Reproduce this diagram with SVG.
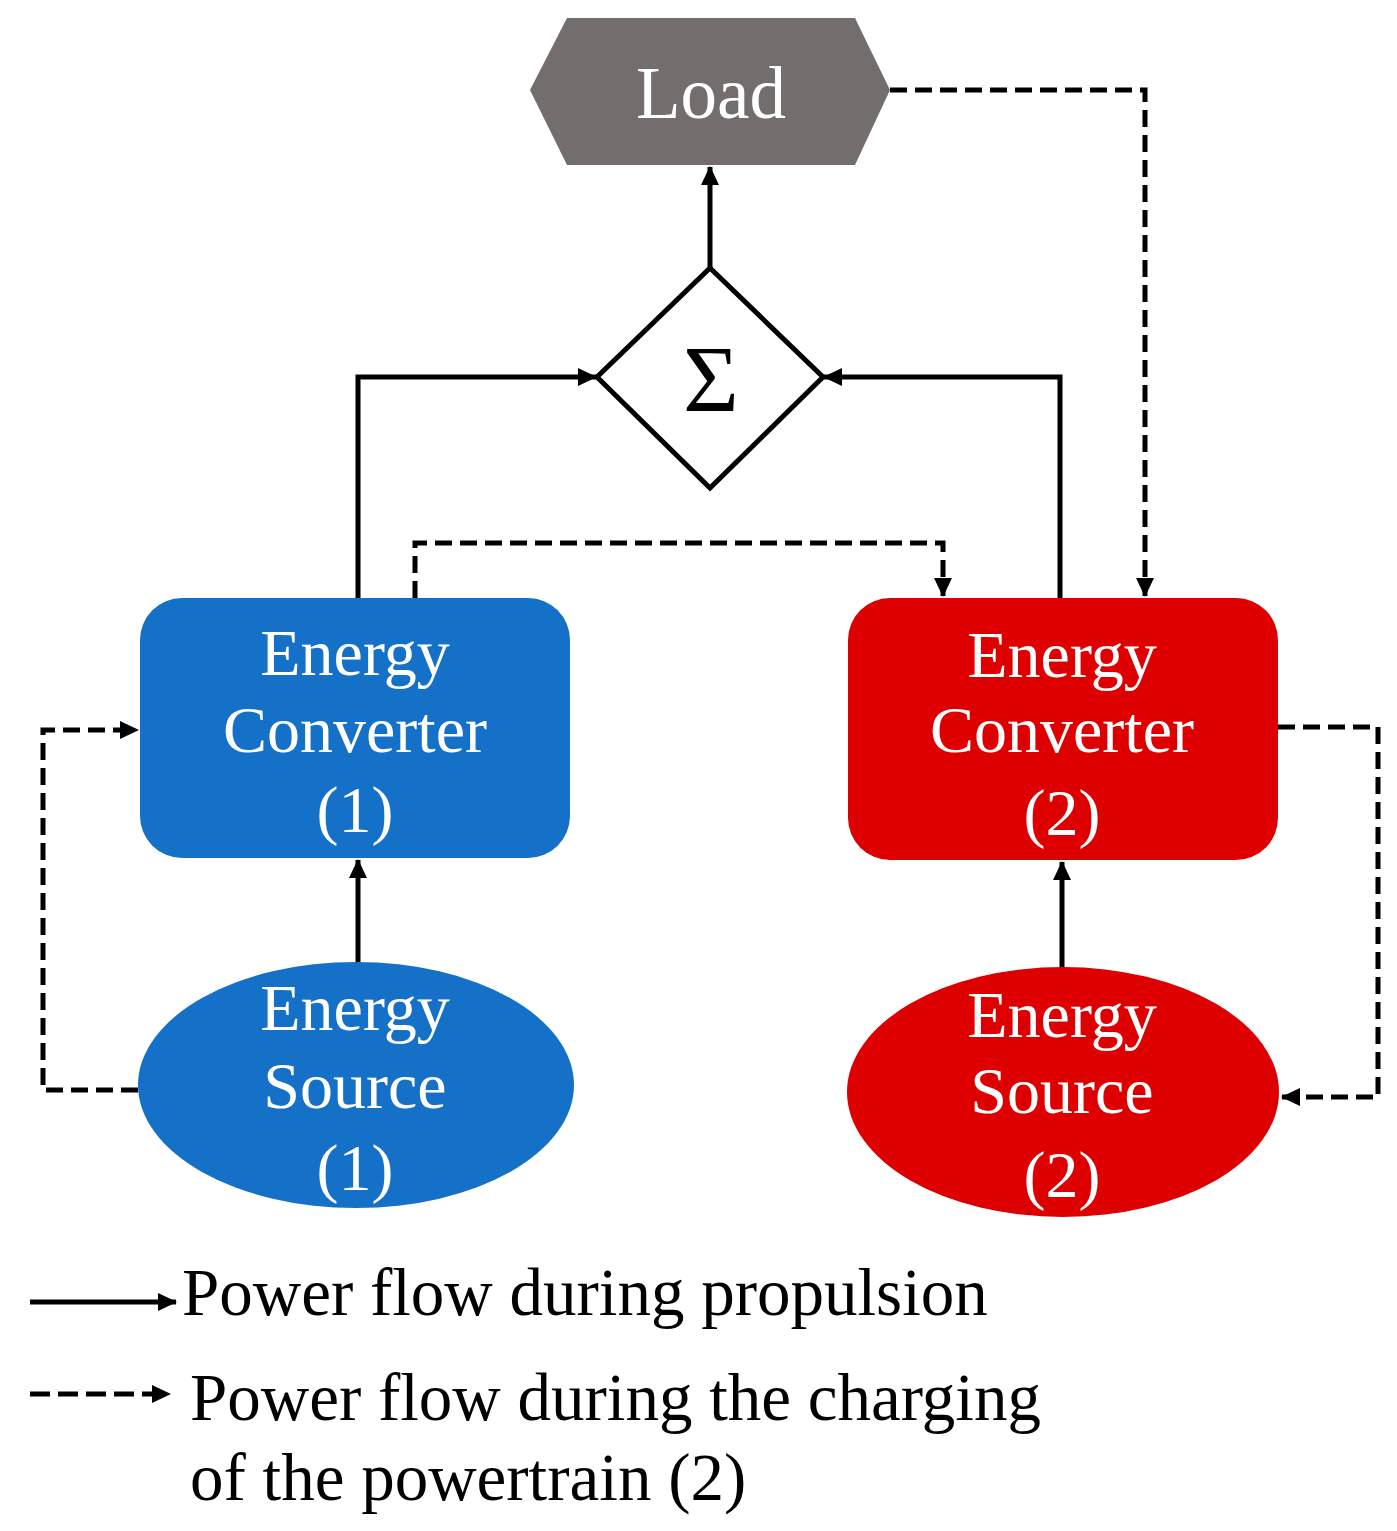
<svg xmlns="http://www.w3.org/2000/svg" width="1397" height="1531" viewBox="0 0 1397 1531">
<style>
.lbl{font-family:"Liberation Serif","Times New Roman",serif;fill:#fff;text-anchor:middle}
.leg{font-family:"Liberation Serif","Times New Roman",serif;fill:#000;font-size:67px}
.solid{fill:none;stroke:#000;stroke-width:5}
.dash{fill:none;stroke:#000;stroke-width:5;stroke-dasharray:17 8}
</style>
<defs>
<marker id="ah" markerUnits="userSpaceOnUse" markerWidth="20" markerHeight="20" refX="18" refY="9" orient="auto">
<path d="M0,0 L19,9 L0,18 Z" fill="#000"/>
</marker>
</defs>
<rect width="1397" height="1531" fill="#fff"/>
<g id="connectors">
<path class="solid" d="M710,268 L710,167" marker-end="url(#ah)"/>
<path class="solid" d="M358,598 L358,377 L596,377" marker-end="url(#ah)"/>
<path class="solid" d="M1060,598 L1060,377 L824,377" marker-end="url(#ah)"/>
<path class="dash" d="M415,598 L415,543 L943,543 L943,596" marker-end="url(#ah)"/>
<path class="dash" d="M890,90 L1145,90 L1145,596" marker-end="url(#ah)"/>
<path class="solid" d="M358,962 L358,860" marker-end="url(#ah)"/>
<path class="dash" d="M138,1090 L43,1090 L43,730 L138,730" marker-end="url(#ah)"/>
<path class="solid" d="M1062,968 L1062,862" marker-end="url(#ah)"/>
<path class="dash" d="M1278,727 L1378,727 L1378,1097 L1282,1097" marker-end="url(#ah)"/>
</g>
<g id="load">
<polygon points="530,90 567,18 855,18 890,90 855,165 567,165" fill="#736e6d"/>
<text class="lbl" x="711" y="118" font-size="73">Load</text>
</g>
<g id="sum">
<polygon points="710,268 823,377 710,488 597,377" fill="#fff" stroke="#000" stroke-width="5"/>
<text x="711" y="412" font-family="Liberation Serif,'Times New Roman',serif" font-size="96" text-anchor="middle" fill="#000">Σ</text>
</g>
<g id="ec1">
<rect x="140" y="598" width="430" height="260" rx="42" fill="#1570c8"/>
<text class="lbl" font-size="66" x="355" y="675">Energy</text>
<text class="lbl" font-size="66" x="355" y="752">Converter</text>
<text class="lbl" font-size="66" x="355" y="832">(1)</text>
</g>
<g id="es1">
<ellipse cx="356" cy="1085" rx="218" ry="123" fill="#1570c8"/>
<text class="lbl" font-size="66" x="355" y="1030">Energy</text>
<text class="lbl" font-size="66" x="355" y="1108">Source</text>
<text class="lbl" font-size="66" x="355" y="1190">(1)</text>
</g>
<g id="ec2">
<rect x="848" y="598" width="430" height="262" rx="42" fill="#de0000"/>
<text class="lbl" font-size="66" x="1062" y="677">Energy</text>
<text class="lbl" font-size="66" x="1062" y="752">Converter</text>
<text class="lbl" font-size="66" x="1062" y="835">(2)</text>
</g>
<g id="es2">
<ellipse cx="1063" cy="1092" rx="216" ry="125" fill="#de0000"/>
<text class="lbl" font-size="66" x="1062" y="1037">Energy</text>
<text class="lbl" font-size="66" x="1062" y="1113">Source</text>
<text class="lbl" font-size="66" x="1062" y="1197">(2)</text>
</g>
<g id="legend">
<path class="solid" d="M30,1302 L176,1302" marker-end="url(#ah)"/>
<text class="leg" x="182" y="1315">Power flow during propulsion</text>
<path class="dash" d="M30,1394 L170,1394" marker-end="url(#ah)" style="stroke-dasharray:20 8"/>
<text class="leg" x="190" y="1420">Power flow during the charging</text>
<text class="leg" x="190" y="1500">of the powertrain (2)</text>
</g>
</svg>
